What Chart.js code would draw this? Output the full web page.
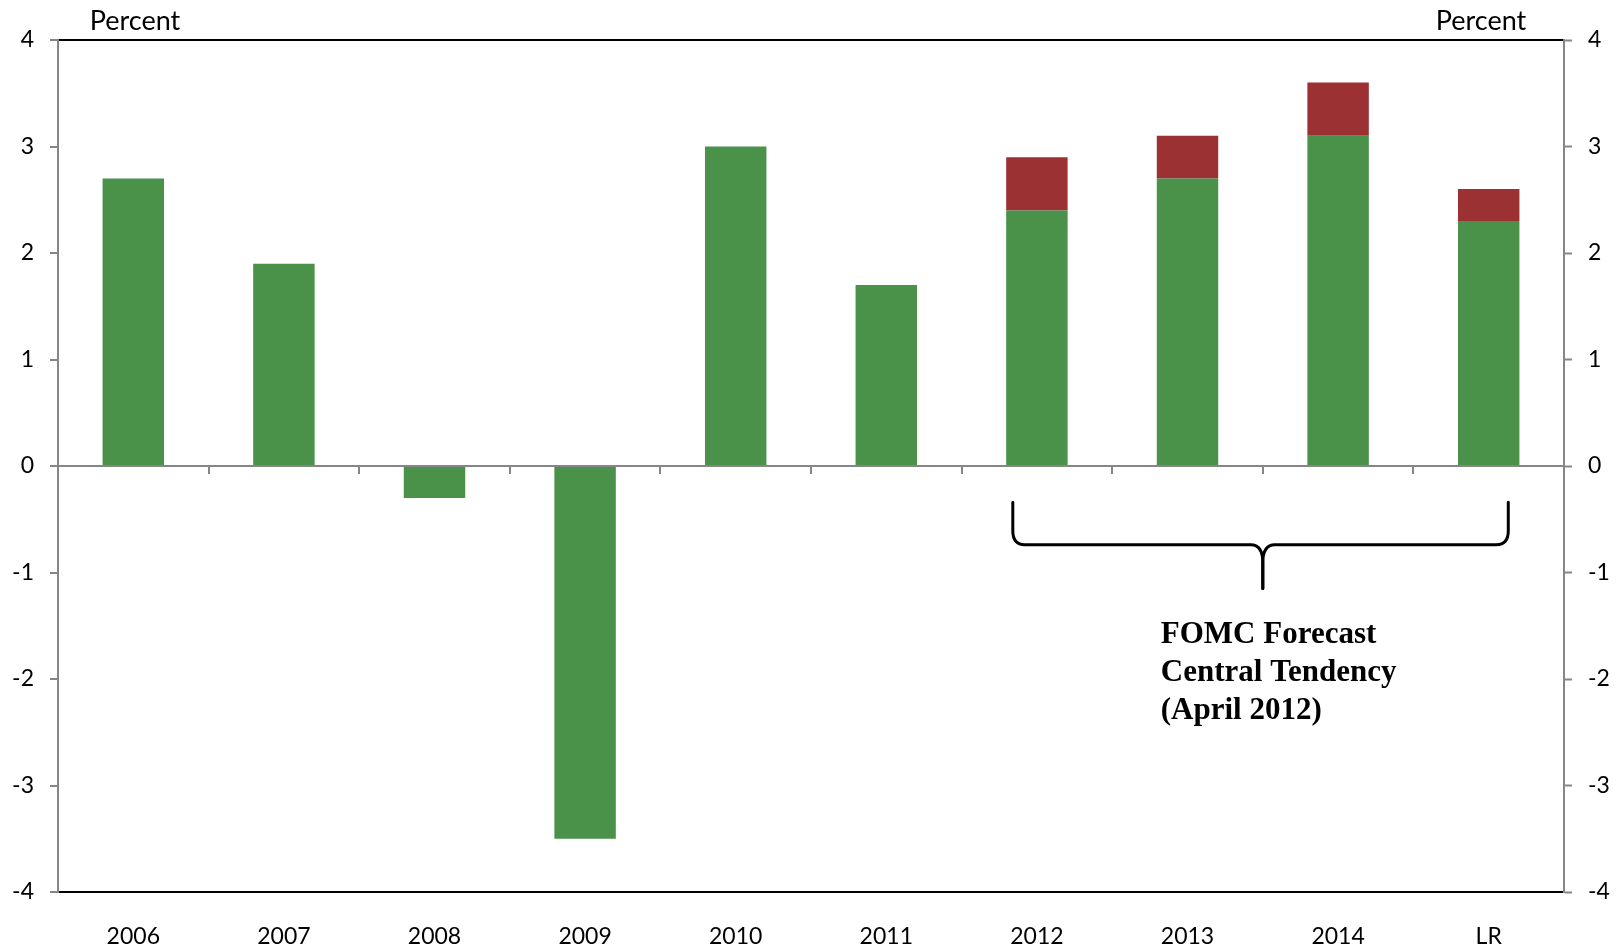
<!DOCTYPE html>
<html>
<head>
<meta charset="utf-8">
<script src="https://cdn.jsdelivr.net/npm/chart.js@4.4.1/dist/chart.umd.min.js"></script>
<style>
  html, body { margin: 0; padding: 0; background: #fff; }
  #wrap { width: 1620px; height: 949px; position: relative; }
</style>
</head>
<body>
<div id="wrap"><canvas id="c"></canvas></div>
<script>
// categories
const years = ['2006', '2007', '2008', '2009', '2010', '2011', '2012', '2013', '2014', 'LR'];
// real GDP growth; for forecast years this is the low end of the central tendency
const lowVals = [2.7, 1.9, -0.3, -3.5, 3.0, 1.7, 2.4, 2.7, 3.1, 2.3];
// high end of the central tendency (forecast years only)
const highVals = [null, null, null, null, null, null, 2.9, 3.1, 3.6, 2.6];
const yMin = -4, yMax = 4;
const noteLines = ['FOMC Forecast', 'Central Tendency', '(April 2012)'];

const GREEN = '#4a9249';
const RED = '#9b3132';
const AXIS_GRAY = '#868686';
const TICK_FONT = { family: 'Lato', size: 23 };

// red part = distance between low and high end
const rangeVals = highVals.map((h, i) => h == null ? null : +(h - lowVals[i]).toFixed(2));

// extra drawing: x ticks on zero line, "Percent" labels, bracket + note
const extras = {
    id: 'extras',
    afterDraw(chart) {
        const ctx = chart.ctx;
        const x = chart.scales.x, y = chart.scales.y;
        const y0 = y.getPixelForValue(0);

        ctx.save();
        // little ticks under the zero line between categories
        ctx.strokeStyle = AXIS_GRAY;
        ctx.lineWidth = 2;
        for (let i = 1; i < years.length; i++) {
            const px = Math.round((x.getPixelForValue(i - 1) + x.getPixelForValue(i)) / 2);
            ctx.beginPath();
            ctx.moveTo(px, y0);
            ctx.lineTo(px, y0 + 8);
            ctx.stroke();
        }

        // Percent labels
        ctx.fillStyle = '#000';
        ctx.font = '27px Lato';
        ctx.textAlign = 'center';
        ctx.textBaseline = 'middle';
        ctx.fillText('Percent', 135, 21);
        ctx.fillText('Percent', 1481, 21);

        // curly bracket under forecast bars
        const step = x.getPixelForValue(1) - x.getPixelForValue(0);
        const xl = x.getPixelForValue(6) - 0.16 * step;
        const xr = x.getPixelForValue(9) + 0.13 * step;
        const xm = (x.getPixelForValue(7) + x.getPixelForValue(8)) / 2;
        const yt = y.getPixelForValue(-0.34);
        const yb = y.getPixelForValue(-0.74);
        const ytip = y.getPixelForValue(-1.15);
        ctx.strokeStyle = '#000';
        ctx.lineWidth = 3;
        ctx.lineCap = 'round';
        ctx.lineJoin = 'round';
        [[xl, 1], [xr, -1]].forEach(([xe, d]) => {
            ctx.beginPath();
            ctx.moveTo(xe, yt);
            ctx.lineTo(xe, yb - 14);
            ctx.quadraticCurveTo(xe, yb, xe + d * 12, yb);
            ctx.lineTo(xm - d * 12, yb);
            ctx.quadraticCurveTo(xm, yb, xm, yb + 18);
            ctx.lineTo(xm, ytip);
            ctx.stroke();
        });

        // note text
        ctx.font = 'bold 31px "Liberation Serif"';
        ctx.textAlign = 'left';
        ctx.fillStyle = '#000';
        const tx = xm - 102;
        [-1.59, -1.945, -2.30].forEach((v, i) => {
            ctx.fillText(noteLines[i], tx, y.getPixelForValue(v));
        });
        ctx.restore();
    }
};

new Chart(document.getElementById('c'), {
    type: 'bar',
    data: {
        labels: years,
        datasets: [
            { label: 'Actual / low', data: lowVals, backgroundColor: GREEN, yAxisID: 'y' },
            { label: 'Central tendency', data: rangeVals, backgroundColor: RED, yAxisID: 'y' }
        ]
    },
    options: {
        responsive: true,
        maintainAspectRatio: false,
        animation: false,
        events: [],
        layout: { padding: { top: 40, left: 0, right: 0, bottom: 0 } },
        datasets: { bar: { categoryPercentage: 1, barPercentage: 0.408 } },
        plugins: { legend: { display: false }, tooltip: { enabled: false } },
        scales: {
            x: {
                stacked: true,
                grid: { display: false, drawTicks: false },
                border: { display: true, color: '#000', width: 2 },
                ticks: { color: '#000', font: TICK_FONT, padding: 31 },
                afterFit(s) { s.height = 57; }
            },
            y: {
                stacked: true,
                position: 'left',
                min: yMin, max: yMax,
                grid: {
                    color: c => c.tick.value === 0 ? AXIS_GRAY : (c.tick.value === yMax ? '#000' : 'rgba(0,0,0,0)'),
                    lineWidth: 2,
                    tickColor: AXIS_GRAY,
                    tickLength: 8,
                    tickWidth: 2
                },
                border: { display: true, color: AXIS_GRAY, width: 2 },
                ticks: { stepSize: 1, color: '#000', font: TICK_FONT, padding: 16 },
                afterFit(s) { s.width = 58; }
            },
            y2: {
                position: 'right',
                min: yMin, max: yMax,
                grid: {
                    color: 'rgba(0,0,0,0)',
                    tickColor: AXIS_GRAY,
                    tickLength: 8,
                    tickWidth: 2
                },
                border: { display: true, color: AXIS_GRAY, width: 2 },
                ticks: { stepSize: 1, color: '#000', font: TICK_FONT, padding: 16 },
                afterFit(s) { s.width = 56; }
            }
        }
    },
    plugins: [extras]
});
</script>
</body>
</html>
